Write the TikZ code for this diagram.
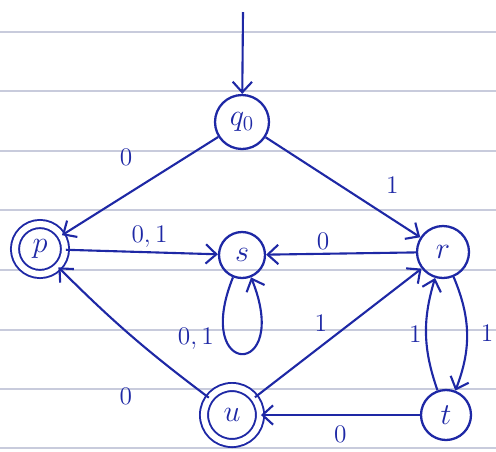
\documentclass[tikz,border=0pt]{standalone}
\usepackage{amsmath,amssymb}
\usepackage{tikz}
\usetikzlibrary{arrows.meta,positioning}
\definecolor{ink}{RGB}{30,40,165}
\definecolor{ruling}{RGB}{200,203,220}

\begin{document}
\begin{tikzpicture}[x=0.02cm,y=-0.02cm,
    state/.style={circle, draw=ink, line width=1.3pt, inner sep=0pt, text=ink, font=\LARGE},
    final/.style={state, double, double distance=3.5pt, line width=1.1pt},
    trans/.style={->, draw=ink, line width=1.2pt, >={Straight Barb[length=6pt,width=11pt]}},
    lbl/.style={text=ink, font=\Large, inner sep=1pt}]
    \useasboundingbox (0,0) rectangle (496,451);
    % lines of the notebook page
    \foreach \y in {32,91,151,210,270,330,389,448}
        \draw[ruling, line width=0.6pt] (0,\y) -- (496,\y);
    % states
    \node[state, minimum size=1.08cm] (q0) at (242,122) {$q_0$};
    \node[final, minimum size=1.0cm] (p) at (40,249) {$p$};
    \node[state, minimum size=0.92cm] (s) at (242,255) {$s$};
    \node[state, minimum size=1.04cm] (r) at (443,252) {$r$};
    \node[final, minimum size=1.12cm] (u) at (232,415) {$u$};
    \node[state, minimum size=1.0cm] (t) at (446,415) {$t$};
    \coordinate (start) at (243,12);
    % transitions
    \draw[trans] (start) -- (q0);
    \draw[trans] (q0) -- node[lbl, pos=0.5, above left=0.35cm and 0.1cm] {$0$} (p);
    \draw[trans] (q0) -- node[lbl, pos=0.82, above=0.45cm] {$1$} (r);
    \draw[trans] (p) -- node[lbl, pos=0.55, above=1pt] {$0,1$} (s);
    \draw[trans] (r) -- node[lbl, pos=0.62, above=1pt] {$0$} (s);
    \draw[trans] (s) to[out=-112, in=-68, min distance=2.2cm] node[lbl, pos=0.28, left=5pt] {$0,1$} (s);
    \draw[trans] (u) -- node[lbl, pos=0.45, above left=0.1cm and 0cm] {$1$} (r);
    \draw[trans] (u) to[bend left=4] node[lbl, pos=0.4, below left=0.75cm and 0.2cm] {$0$} (p);
    \draw[trans] (t) -- node[lbl, pos=0.5, below=5pt] {$0$} (u);
    \draw[trans] (r) to[bend left=22] node[lbl, pos=0.5, right=0.22cm] {$1$} (t);
    \draw[trans] (t) to[bend left=18] node[lbl, pos=0.5, left=1pt] {$1$} (r);
\end{tikzpicture}
\end{document}
